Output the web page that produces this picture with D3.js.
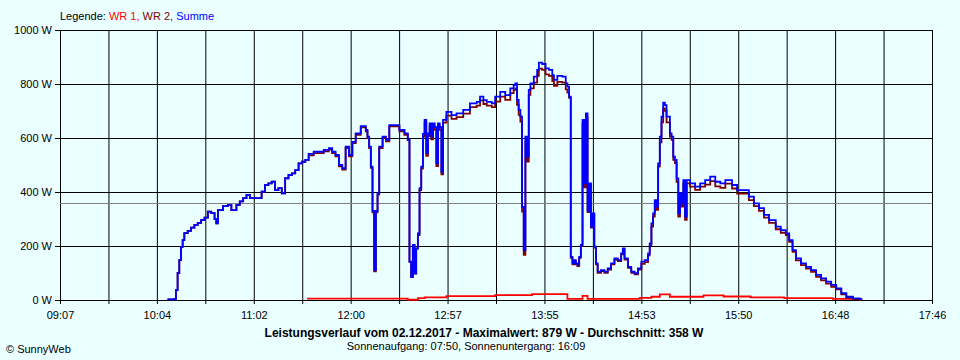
<!DOCTYPE html>
<html>
<head>
<meta charset="utf-8">
<script src="https://cdn.jsdelivr.net/npm/d3@7"></script>
<style>
  body { margin: 0; background: #eaffff; }
  svg { display: block; font-family: "Liberation Sans", Arial, sans-serif; }
</style>
</head>
<body>
<svg id="chart" width="960" height="360"></svg>
<script>
// x axis labels (every second grid line carries one)
const tickLabels = ['09:07', '10:04', '11:02', '12:00', '12:57', '13:55', '14:53', '15:50', '16:48', '17:46'];
const yTicks = [0, 200, 400, 600, 800, 1000];
const average = 358;

// readings for Summe and WR 2, same clock times
const times = [
  '10:11','10:15','10:16','10:17','10:18','10:19','10:20','10:21','10:23','10:25','10:27','10:29','10:31','10:33','10:35',
  '10:37','10:39','10:40','10:41','10:44','10:47','10:49','10:52','10:54','10:56','10:58','11:00','11:03','11:05','11:07',
  '11:09','11:11','11:13','11:15','11:17','11:19','11:21','11:23','11:25','11:27','11:29','11:31','11:33',
  '11:35','11:38','11:41','11:44','11:47','11:49','11:51','11:53','11:55','11:57','11:59','12:01','12:03','12:06','12:09',
  '12:10','12:11','12:12','12:13','12:14','12:15','12:16','12:17','12:19','12:21','12:23','12:27','12:29','12:32',
  '12:34','12:35','12:36','12:37','12:38','12:39','12:40','12:41','12:42','12:43',
  '12:44','12:45','12:46','12:47','12:48','12:49','12:50','12:51','12:52','12:53','12:54','12:55',
  '12:57','13:00','13:03','13:07','13:11','13:15','13:17','13:19','13:21','13:24',
  '13:26','13:29','13:32','13:35','13:37','13:38','13:39','13:40','13:41','13:42','13:43','13:44','13:45','13:46','13:47',
  '13:49','13:51','13:52','13:54','13:56','13:58','14:00','14:01','14:03','14:06','14:08','14:09',
  '14:10','14:11','14:12','14:13','14:14','14:15','14:16','14:17','14:18','14:19','14:20','14:21','14:22','14:23','14:24',
  '14:25','14:26','14:27','14:29','14:31','14:33','14:35','14:37','14:39','14:41','14:42','14:43','14:45','14:47','14:49','14:51',
  '14:53','14:55','14:57','14:58',
  '14:59','15:00','15:01','15:02','15:03',
  '15:04','15:05','15:06','15:07','15:08',
  '15:10','15:11','15:12','15:13','15:14','15:15','15:16','15:17','15:18','15:19','15:20','15:22','15:25','15:28',
  '15:31','15:34','15:37','15:40',
  '15:43','15:47','15:50','15:54','15:57',
  '16:00','16:03','16:06','16:09','16:11','16:13','16:16',
  '16:19','16:21','16:23','16:25','16:28','16:31','16:34','16:37','16:40','16:43','16:46',
  '16:49','16:52','16:55','16:59','17:03','17:04'
];

const summe = [
  2,4,37,100,148,197,222,248,256,268,278,286,296,305,327,
  322,300,284,333,348,352,333,352,365,377,389,377,377,377,401,
  426,432,438,407,414,395,451,463,469,481,506,512,519,
  541,549,549,556,562,549,537,500,488,568,537,586,617,644,630,
  605,568,494,330,111,330,395,568,605,593,648,648,630,617,
  593,142,86,204,99,191,247,414,494,615,
  667,544,617,654,605,654,640,506,654,640,475,667,
  697,685,691,704,728,734,753,740,734,728,
  753,771,759,784,796,802,741,704,679,345,185,605,531,778,802,
  827,852,879,874,858,852,833,815,830,827,802,790,
  753,160,136,148,136,130,160,204,667,432,691,330,432,272,321,
  198,136,105,111,105,117,136,154,148,173,191,154,123,105,99,117,
  142,148,173,210,
  284,321,370,346,506,
  605,679,731,722,679,
  617,605,531,519,450,321,395,358,444,309,444,432,420,432,
  444,457,438,432,
  444,426,407,407,383,
  358,340,315,296,296,272,259,
  247,222,185,154,136,123,111,93,80,68,56,
  43,25,12,6,3,2
];

const wr2 = [
  2,4,37,100,148,197,222,248,256,268,278,286,296,305,327,
  322,300,284,333,348,352,333,352,365,377,389,377,377,377,401,
  426,432,438,407,414,395,451,463,469,481,506,512,519,
  536,544,544,551,557,544,532,495,483,563,532,581,612,639,625,
  600,563,489,325,106,325,390,563,600,588,643,643,625,612,
  592,141,85,203,98,190,240,407,487,605,
  657,534,607,644,595,644,630,496,644,630,465,657,
  683,671,677,690,714,720,739,726,720,714,
  735,753,741,766,778,784,723,686,661,327,167,587,513,760,784,
  805,830,857,852,836,830,811,793,808,805,780,768,
  749,156,132,144,132,126,156,200,652,417,676,326,428,268,317,
  194,132,101,107,101,113,132,150,144,169,187,150,119,101,95,113,
  134,140,165,202,
  272,309,358,334,494,
  584,658,710,701,658,
  605,593,519,507,438,309,383,346,432,297,432,420,408,420,
  427,440,421,415,
  431,413,394,394,370,
  348,330,305,286,286,262,249,
  240,215,178,147,129,116,104,86,73,61,49,
  39,21,8,3,1,0
];

// WR 1 is a slow step series with its own times
const wr1Times = ['11:34','12:34','12:40','12:44','12:57','13:26','13:48','14:09','14:18','14:21',
                  '14:52','14:59','15:04','15:10','15:30','15:42','15:58','16:18','16:47','17:03','17:04'];
const wr1 = [5,1,7,10,14,18,22,4,15,4,8,12,21,12,17,13,10,7,4,2,2];

const parseTime = d3.timeParse('%H:%M');
const margin = { top: 30, right: 28, bottom: 60, left: 60 };
const width = 960 - margin.left - margin.right;
const height = 360 - margin.top - margin.bottom;

const svg = d3.select('#chart');
const g = svg.append('g').attr('transform', `translate(${margin.left},${margin.top})`);

const t0 = parseTime(tickLabels[0]);
const t1 = parseTime(tickLabels[tickLabels.length - 1]);
const x = d3.scaleTime().domain([t0, t1]).range([0, width]);
const y = d3.scaleLinear().domain([0, 1000]).range([height, 0]);

// grid: 18 equal steps, label on every other one
const gridTicks = d3.range(19).map(i => new Date(+t0 + i * (t1 - t0) / 18));

const xAxis = g.append('g')
    .attr('class', 'x-axis')
    .attr('transform', `translate(0,${height})`)
    .call(d3.axisBottom(x).tickValues(gridTicks).tickSizeInner(-height).tickSizeOuter(0)
        .tickPadding(11).tickFormat((d, i) => i % 2 === 0 ? tickLabels[i / 2] : ''));
xAxis.selectAll('.tick line').attr('y1', 4).attr('stroke', '#000');

const yAxis = g.append('g')
    .attr('class', 'y-axis')
    .call(d3.axisLeft(y).tickValues(yTicks).tickSizeInner(-width).tickSizeOuter(0)
        .tickPadding(8).tickFormat(d => d + ' W'));
yAxis.selectAll('.tick line').attr('x1', -5).attr('stroke', '#000');

g.selectAll('.x-axis, .y-axis')
    .attr('font-family', null)
    .attr('font-size', 11)
    .selectAll('text').attr('fill', '#000');

// average line
g.append('line')
    .attr('x1', 0).attr('x2', width)
    .attr('y1', Math.round(y(average)) + 0.5).attr('y2', Math.round(y(average)) + 0.5)
    .attr('stroke', '#808080');

const line = d3.line()
    .x(d => x(d.t))
    .y(d => y(d.v))
    .curve(d3.curveStepAfter);

const series = [
  { color: '#ff0000', data: wr1Times.map((t, i) => ({ t: parseTime(t), v: wr1[i] })) },
  { color: '#800000', data: times.map((t, i) => ({ t: parseTime(t), v: wr2[i] })) },
  { color: '#0000ff', data: times.map((t, i) => ({ t: parseTime(t), v: summe[i] })) }
];

g.selectAll('path.series')
    .data(series)
    .enter()
    .append('path')
    .attr('class', 'series')
    .attr('fill', 'none')
    .attr('stroke', d => d.color)
    .attr('stroke-width', 1.8)
    .attr('d', d => line(d.data));

// legend
const legend = svg.append('text')
    .attr('x', 60).attr('y', 20)
    .attr('font-size', 11);
legend.append('tspan').attr('fill', '#000').text('Legende: ');
legend.append('tspan').attr('fill', '#ff0000').text('WR 1, ');
legend.append('tspan').attr('fill', '#800000').text('WR 2, ');
legend.append('tspan').attr('fill', '#0000ff').text('Summe');

svg.append('text')
    .attr('x', 484).attr('y', 337)
    .attr('text-anchor', 'middle')
    .attr('font-size', 12)
    .attr('font-weight', 'bold')
    .text('Leistungsverlauf vom 02.12.2017 - Maximalwert: 879 W - Durchschnitt: 358 W');

svg.append('text')
    .attr('x', 466).attr('y', 350)
    .attr('text-anchor', 'middle')
    .attr('font-size', 11)
    .text('Sonnenaufgang: 07:50, Sonnenuntergang: 16:09');

svg.append('text')
    .attr('x', 6).attr('y', 353)
    .attr('font-size', 11)
    .text('© SunnyWeb');
</script>
</body>
</html>
